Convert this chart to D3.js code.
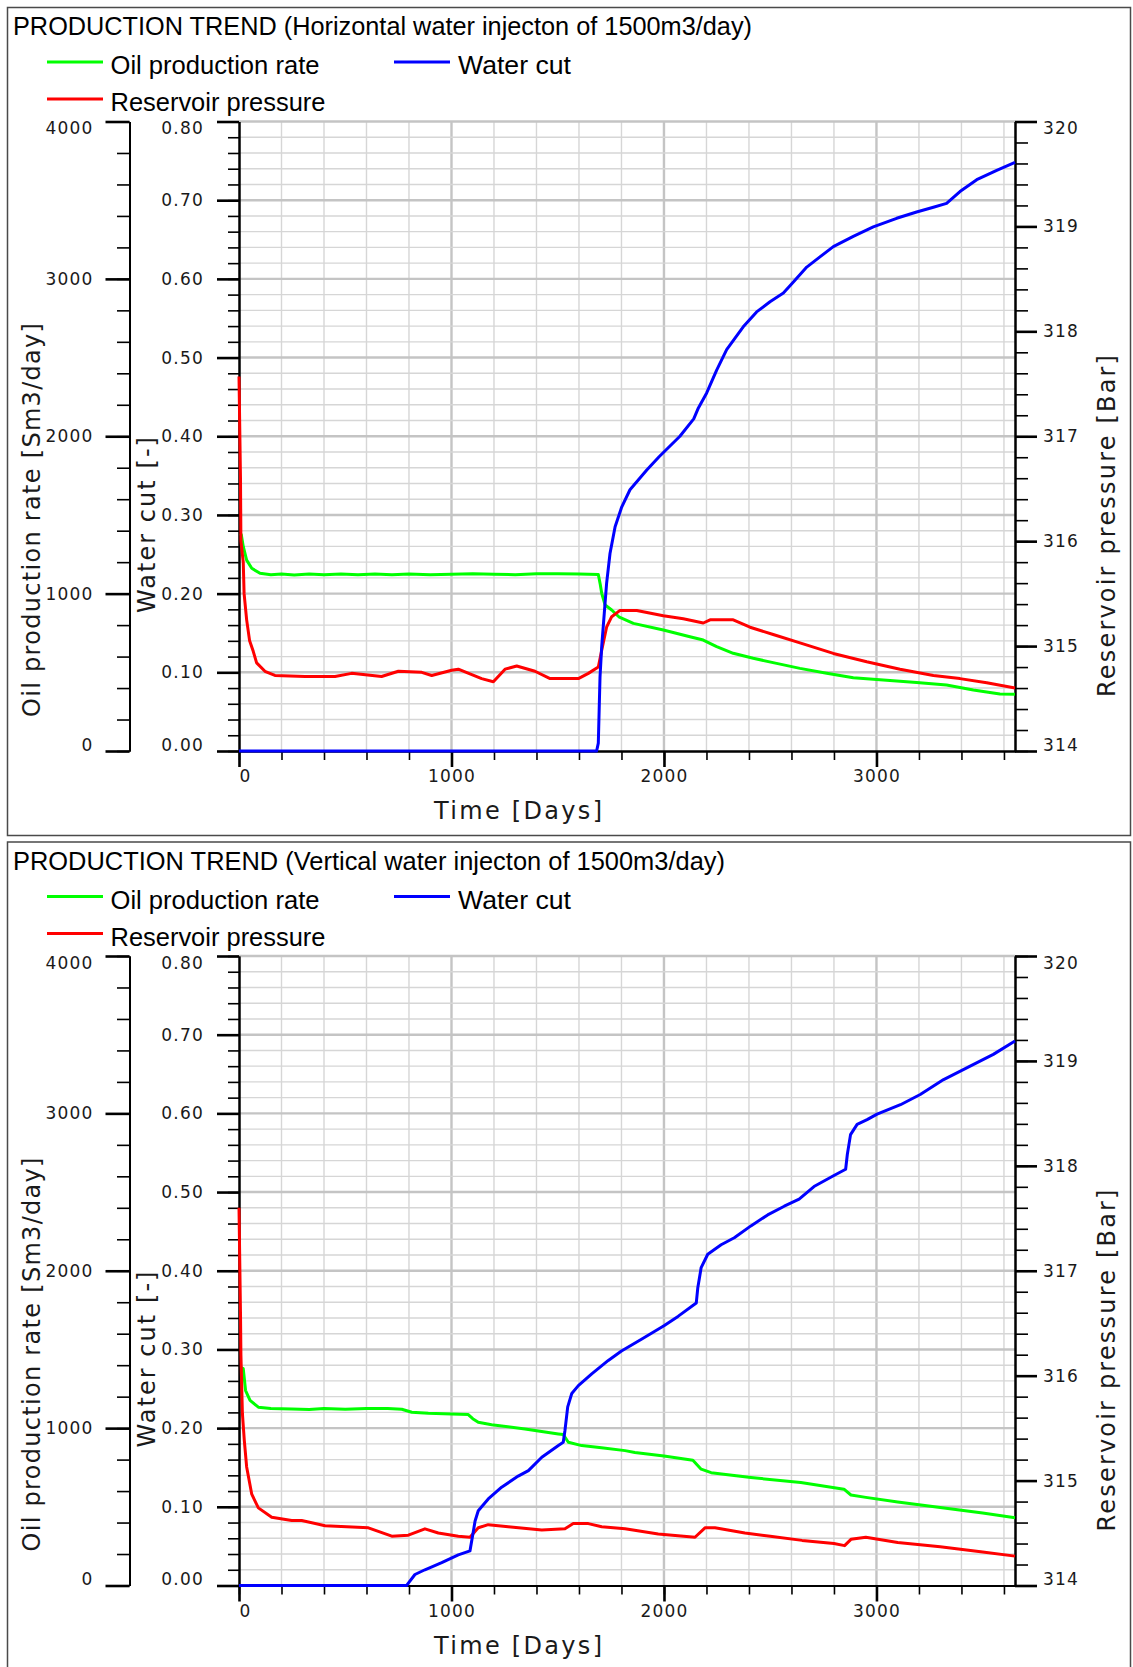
<!DOCTYPE html>
<html><head><meta charset="utf-8">
<script src="https://cdn.jsdelivr.net/npm/d3@7/dist/d3.min.js"></script>
<style>
html,body{margin:0;padding:0;background:#fff;}
svg{display:block;}
</style></head><body>
<svg id="chart" width="1133" height="1667"></svg>
<script>
// ---------------- DATA ----------------
const panelTitles = [
  "PRODUCTION TREND (Horizontal water injecton of 1500m3/day)",
  "PRODUCTION TREND (Vertical water injecton of 1500m3/day)"
];
const legendLabels = ["Oil production rate", "Water cut", "Reservoir pressure"];
const timeTicks = [0, 1000, 2000, 3000];
const oilTicks = [0, 1000, 2000, 3000, 4000];
const waterCutTicks = [0, 0.1, 0.2, 0.3, 0.4, 0.5, 0.6, 0.7, 0.8];
const pressureTicks = [314, 315, 316, 317, 318, 319, 320];
const axisTitles = ["Oil production rate [Sm3/day]", "Water cut [-]", "Reservoir pressure [Bar]", "Time [Days]"];

// [day, Sm3/day]
const horizontalOilRate = [[10,1380],[20,1300],[36,1213],[60,1161],[99,1129],[150,1120],[200,1124],[260,1118],[330,1125],[400,1120],[480,1125],[560,1120],[640,1124],[720,1120],[800,1124],[900,1120],[1000,1123],[1100,1126],[1200,1123],[1300,1120],[1400,1126],[1500,1127],[1600,1124],[1691,1122],[1700,1060],[1707,1002],[1723,928],[1754,896],[1790,850],[1856,811],[1997,769],[2122,726],[2185,705],[2248,663],[2326,621],[2420,589],[2530,557],[2640,525],[2766,494],[2891,466],[3032,451],[3189,436],[3330,419],[3456,388],[3581,362],[3652,360]];
// [day, fraction]
const horizontalWaterCut = [[0,0],[1683,0],[1691,0.01],[1695,0.052],[1699,0.094],[1707,0.133],[1719,0.175],[1730,0.213],[1746,0.251],[1770,0.285],[1801,0.310],[1840,0.332],[1919,0.357],[1977,0.374],[2075,0.400],[2140,0.422],[2162,0.436],[2201,0.455],[2248,0.484],[2295,0.510],[2373,0.539],[2436,0.558],[2499,0.571],[2562,0.582],[2609,0.596],[2672,0.615],[2734,0.628],[2797,0.641],[2891,0.654],[2985,0.666],[3095,0.677],[3189,0.685],[3268,0.691],[3330,0.696],[3393,0.711],[3472,0.726],[3566,0.738],[3652,0.748]];
// [day, bar]
const horizontalPressure = [[0,317.57],[7,316.6],[9,316.0],[20,315.8],[24,315.5],[36,315.25],[50,315.05],[67,314.95],[83,314.84],[122,314.76],[169,314.72],[311,314.71],[452,314.71],[530,314.74],[671,314.71],[750,314.76],[860,314.75],[907,314.72],[1001,314.77],[1032,314.78],[1142,314.69],[1197,314.66],[1252,314.78],[1307,314.81],[1393,314.76],[1464,314.69],[1597,314.69],[1644,314.74],[1691,314.80],[1707,314.96],[1730,315.18],[1754,315.28],[1793,315.34],[1872,315.34],[1997,315.29],[2091,315.26],[2185,315.22],[2217,315.25],[2326,315.25],[2405,315.18],[2514,315.11],[2640,315.03],[2797,314.93],[2954,314.85],[3111,314.78],[3268,314.72],[3393,314.69],[3519,314.65],[3652,314.60]];

const verticalOilRate = [[10,1385],[20,1378],[31,1239],[52,1176],[91,1133],[150,1124],[248,1122],[330,1118],[400,1124],[500,1120],[600,1124],[700,1124],[766,1120],[813,1101],[891,1095],[1000,1090],[1079,1086],[1100,1060],[1126,1037],[1189,1022],[1346,995],[1503,963],[1526,959],[1550,910],[1613,889],[1706,876],[1817,857],[1863,845],[2000,823],[2136,796],[2175,739],[2222,717],[2409,686],[2644,654],[2847,612],[2880,575],[2950,560],[3100,530],[3300,495],[3500,460],[3652,430]];
const verticalWaterCut = [[0,0],[789,0],[797,0.003],[828,0.014],[875,0.020],[954,0.029],[1032,0.039],[1087,0.044],[1103,0.069],[1111,0.082],[1126,0.095],[1173,0.110],[1236,0.125],[1314,0.139],[1362,0.146],[1425,0.163],[1503,0.178],[1526,0.182],[1534,0.197],[1547,0.227],[1566,0.244],[1597,0.254],[1660,0.269],[1738,0.286],[1800,0.298],[1894,0.313],[2000,0.330],[2066,0.342],[2152,0.359],[2159,0.378],[2175,0.404],[2206,0.421],[2269,0.433],[2331,0.442],[2409,0.457],[2488,0.471],[2566,0.482],[2636,0.491],[2706,0.507],[2800,0.521],[2855,0.529],[2863,0.548],[2878,0.573],[2909,0.586],[2956,0.592],[3003,0.599],[3113,0.611],[3206,0.624],[3316,0.643],[3441,0.660],[3550,0.675],[3652,0.692]];
const verticalPressure = [[0,317.6],[7,316.6],[9,316.2],[16,315.64],[25,315.38],[36,315.13],[60,314.87],[91,314.74],[154,314.65],[248,314.62],[295,314.62],[405,314.57],[609,314.55],[719,314.47],[797,314.48],[875,314.54],[938,314.50],[1032,314.47],[1087,314.46],[1126,314.55],[1173,314.58],[1267,314.56],[1425,314.53],[1534,314.54],[1573,314.59],[1644,314.59],[1707,314.56],[1817,314.54],[1973,314.49],[2146,314.46],[2193,314.55],[2240,314.55],[2381,314.50],[2500,314.47],[2650,314.43],[2800,314.40],[2850,314.38],[2880,314.44],[2950,314.46],[3100,314.41],[3300,314.37],[3500,314.32],[3652,314.28]];

const panels = [
  {title: panelTitles[0], titleLen: 739, oil: horizontalOilRate, wc: horizontalWaterCut, pr: horizontalPressure},
  {title: panelTitles[1], titleLen: 712, oil: verticalOilRate, wc: verticalWaterCut, pr: verticalPressure}
];

// ---------------- LAYOUT ----------------
const PANEL_DY = 834.5;
const L = 239, R = 1015, T = 121.5, B = 751;
const OIL_AXIS_X = 129.5;
const COL = {oil: "#00ff00", wc: "#0000ff", pr: "#ff0000"};
const TICK_FONT = "DejaVu Sans";
const TITLE_FONT = "Liberation Sans, Arial, sans-serif";

const x = d3.scaleLinear().domain([0, 3652]).range([L, R]);
const yWC = d3.scaleLinear().domain([0, 0.8]).range([B, T]);
const yOil = d3.scaleLinear().domain([0, 4000]).range([B, T]);
const yP = d3.scaleLinear().domain([314, 320]).range([B, T]);

const svg = d3.select("#chart");

function styleAxis(sel, width) {
  sel.attr("font-family", TICK_FONT).attr("font-size", 17);
  sel.select(".domain").attr("stroke", "#000").attr("stroke-width", 2);
  sel.selectAll(".tick line").attr("stroke", "#000").attr("stroke-width", width);
  sel.selectAll(".tick text").attr("fill", "#1a1a1a").attr("letter-spacing", 1.2);
}

function shiftEnds(sel, top, bottom) {
  sel.selectAll(".tick text").each(function(d) {
    const t = d3.select(this);
    if (d === top) t.attr("y", 7);
    if (d === bottom) t.attr("y", -6);
  });
}

panels.forEach((p, i) => {
  const g = svg.append("g").attr("transform", `translate(0,${i * PANEL_DY})`);

  g.append("rect").attr("x", 7.5).attr("y", 7.5).attr("width", 1123).attr("height", 828)
    .attr("fill", "none").attr("stroke", "#4a4a4a").attr("stroke-width", 1.5);

  g.append("text").attr("x", 13).attr("y", 35)
    .attr("font-family", TITLE_FONT).attr("font-size", 25.5).attr("fill", "#000")
    .attr("textLength", p.titleLen).attr("lengthAdjust", "spacingAndGlyphs")
    .text(p.title);

  // legend
  const leg = [
    {label: legendLabels[0], c: COL.oil, lx: 47, tx: 110.5, ly: 62, ty: 74, len: 209},
    {label: legendLabels[1], c: COL.wc, lx: 394, tx: 458, ly: 62, ty: 74, len: 113},
    {label: legendLabels[2], c: COL.pr, lx: 47, tx: 110.5, ly: 99, ty: 111, len: 215}
  ];
  leg.forEach(e => {
    g.append("line").attr("x1", e.lx).attr("x2", e.lx + 56).attr("y1", e.ly).attr("y2", e.ly)
      .attr("stroke", e.c).attr("stroke-width", 3);
    g.append("text").attr("x", e.tx).attr("y", e.ty)
      .attr("font-family", TITLE_FONT).attr("font-size", 25.5).attr("fill", "#000")
      .attr("textLength", e.len).attr("lengthAdjust", "spacingAndGlyphs")
      .text(e.label);
  });

  // grid
  const vGrid = d3.range(200, 3652, 200);
  g.append("g").selectAll("line").data(vGrid).join("line")
    .attr("x1", d => x(d)).attr("x2", d => x(d)).attr("y1", B).attr("y2", T)
    .attr("stroke", d => d % 1000 === 0 ? "#c4c4c4" : "#d6d6d6")
    .attr("stroke-width", d => d % 1000 === 0 ? 2.4 : 1.4);
  const hGrid = d3.range(1, 41);
  g.append("g").selectAll("line").data(hGrid).join("line")
    .attr("x1", L).attr("x2", R).attr("y1", k => yWC(k * 0.02)).attr("y2", k => yWC(k * 0.02))
    .attr("stroke", k => k % 5 === 0 ? "#c4c4c4" : "#d6d6d6")
    .attr("stroke-width", k => k % 5 === 0 ? 2.4 : 1.4);

  // axes: water cut (left at plot edge)
  g.append("g").attr("transform", `translate(${L},0)`)
    .call(d3.axisLeft(yWC).tickValues(d3.range(0, 41).map(k => k * 0.02)).tickSize(11).tickSizeOuter(0).tickFormat(""))
    .call(s => styleAxis(s, 1.6));
  g.append("g").attr("transform", `translate(${L},0)`)
    .call(d3.axisLeft(yWC).tickValues(waterCutTicks).tickSize(22).tickSizeOuter(0).tickPadding(13).tickFormat(d3.format(".2f")))
    .call(s => styleAxis(s, 2.6))
    .call(s => shiftEnds(s, 0.8, 0));

  // oil axis
  g.append("g").attr("transform", `translate(${OIL_AXIS_X},0)`)
    .call(d3.axisLeft(yOil).tickValues(d3.range(0, 21).map(k => k * 200)).tickSize(12.5).tickSizeOuter(0).tickFormat(""))
    .call(s => styleAxis(s, 1.6));
  g.append("g").attr("transform", `translate(${OIL_AXIS_X},0)`)
    .call(d3.axisLeft(yOil).tickValues(oilTicks).tickSize(24).tickSizeOuter(0).tickPadding(12).tickFormat(d3.format("d")))
    .call(s => styleAxis(s, 2.6))
    .call(s => shiftEnds(s, 4000, 0));

  // pressure axis (right)
  g.append("g").attr("transform", `translate(${R},0)`)
    .call(d3.axisRight(yP).tickValues(d3.range(0, 31).map(k => 314 + k * 0.2)).tickSize(13).tickSizeOuter(0).tickFormat(""))
    .call(s => styleAxis(s, 1.6));
  g.append("g").attr("transform", `translate(${R},0)`)
    .call(d3.axisRight(yP).tickValues(pressureTicks).tickSize(22).tickSizeOuter(0).tickPadding(6).tickFormat(d3.format("d")))
    .call(s => styleAxis(s, 2.6))
    .call(s => shiftEnds(s, 320, 314));

  // time axis
  g.append("g").attr("transform", `translate(0,${B})`)
    .call(d3.axisBottom(x).tickValues(d3.range(0, 3652, 200)).tickSize(9).tickSizeOuter(0).tickFormat(""))
    .call(s => styleAxis(s, 1.6));
  g.append("g").attr("transform", `translate(0,${B})`)
    .call(d3.axisBottom(x).tickValues(timeTicks).tickSize(16).tickSizeOuter(0).tickPadding(3).tickFormat(d3.format("d")))
    .call(s => styleAxis(s, 2.6))
    .call(s => s.selectAll(".tick text").filter(d => d === 0).attr("x", 6));

  // axis titles
  const atitle = (txt, cx, cy, len, rot) => {
    g.append("text")
      .attr("transform", `translate(${cx},${cy})` + (rot ? " rotate(-90)" : ""))
      .attr("text-anchor", "middle")
      .attr("font-family", TICK_FONT).attr("font-size", 24).attr("fill", "#1a1a1a")
      .attr("textLength", len).attr("lengthAdjust", "spacing")
      .text(txt);
  };
  atitle(axisTitles[0], 40, 520, 394, true);
  atitle(axisTitles[1], 155, 525, 176, true);
  atitle(axisTitles[2], 1115, 526, 342, true);
  atitle(axisTitles[3], 518, 819, 168, false);

  // data lines
  const mk = ys => d3.line().x(d => x(d[0])).y(d => ys(d[1]));
  g.append("path").datum(p.oil).attr("d", mk(yOil)).attr("fill", "none").attr("stroke", COL.oil).attr("stroke-width", 3).attr("stroke-linejoin", "round");
  g.append("path").datum(p.pr).attr("d", mk(yP)).attr("fill", "none").attr("stroke", COL.pr).attr("stroke-width", 3).attr("stroke-linejoin", "round");
  g.append("path").datum(p.wc).attr("d", mk(yWC)).attr("fill", "none").attr("stroke", COL.wc).attr("stroke-width", 3).attr("stroke-linejoin", "round");
});
</script>
</body></html>
